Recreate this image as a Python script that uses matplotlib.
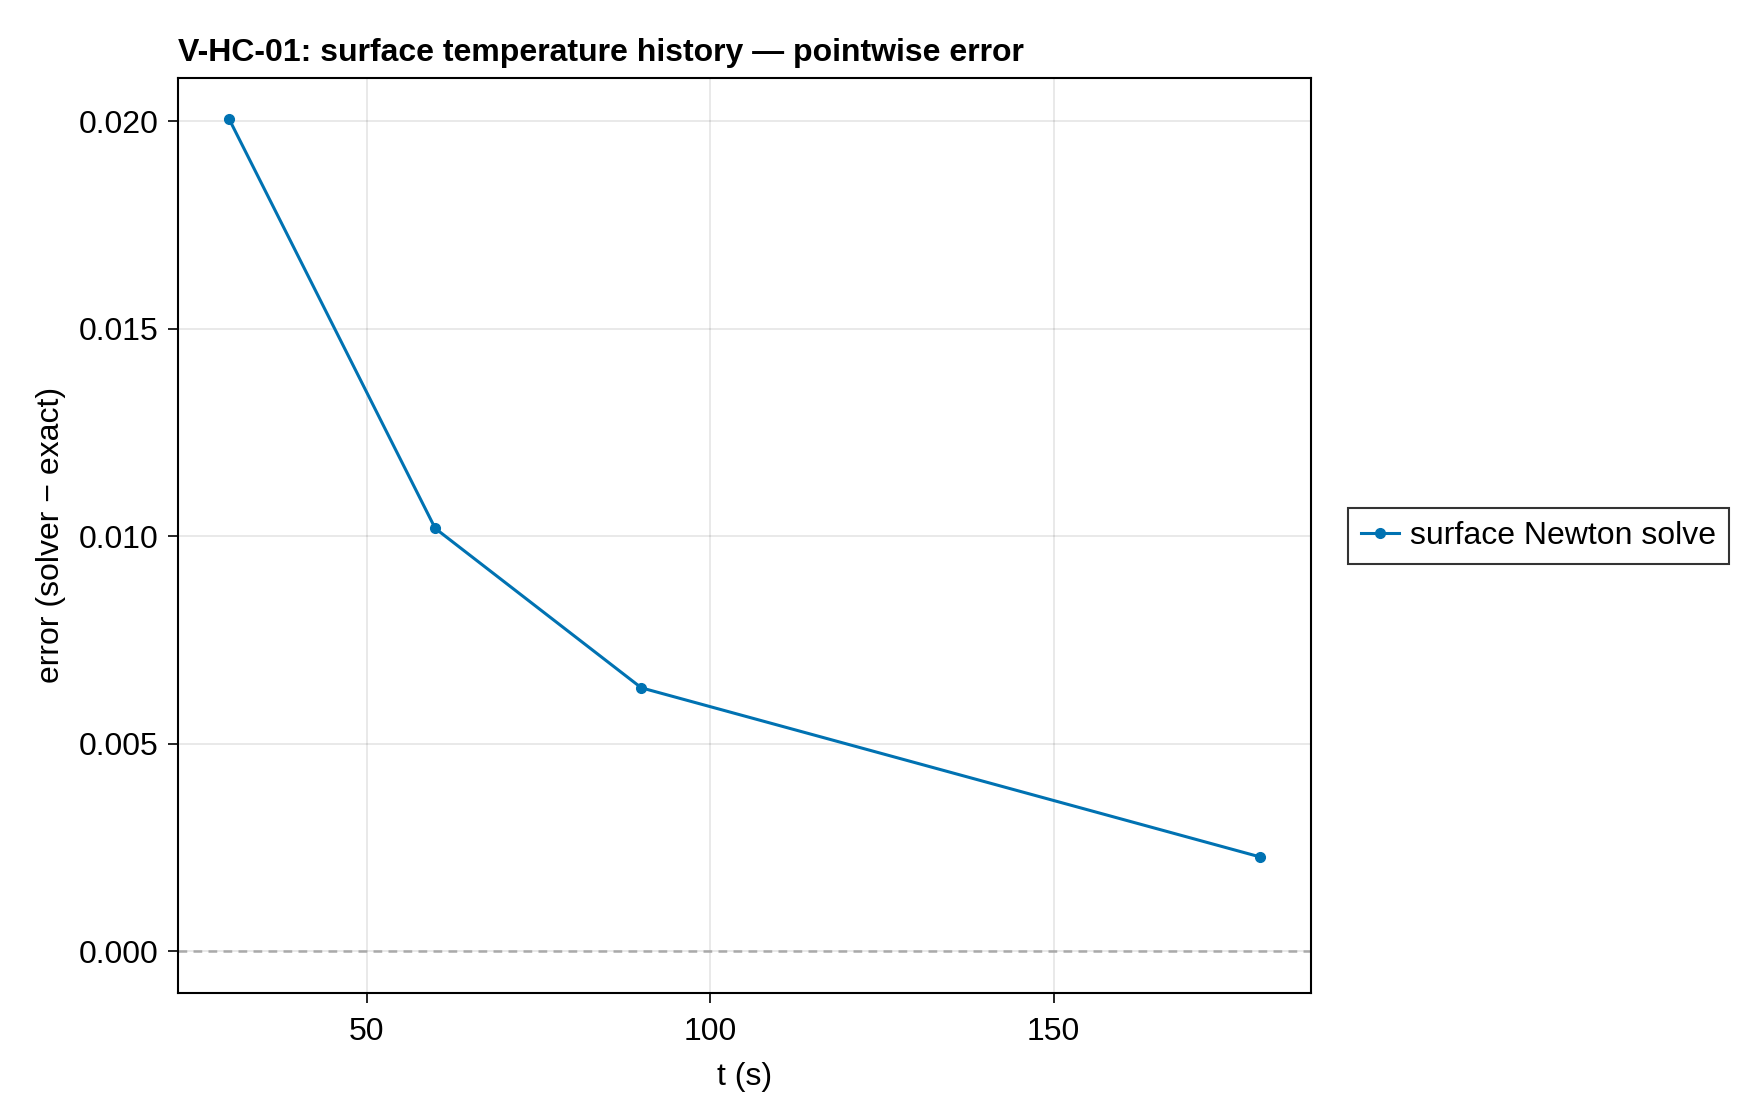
import numpy as np
import matplotlib

matplotlib.use("Agg")
import matplotlib.pyplot as plt

# surface temperature history: pointwise error at sample times
t_s = [30, 60, 90, 180]
error = [0.02005, 0.01019, 0.00635, 0.00228]
series_label = "surface Newton solve"

BLUE = "#0072B2"

plt.rcParams["font.family"] = ["Liberation Sans", "DejaVu Sans"]
plt.rcParams["font.size"] = 23

fig = plt.figure(figsize=(17.6, 11.2), dpi=100)
ax = fig.add_axes([0.1009, 0.1134, 0.6441, 0.8174])

ax.axhline(0.0, color="#aaaaaa", linestyle=(0, (3.5, 2.5)), linewidth=1.8, zorder=1)
ax.plot(t_s, error, color=BLUE, linewidth=2.2, marker="o", markersize=7,
        label=series_label, zorder=3)

ax.set_xlim(22.5, 187.5)
ax.set_ylim(-0.001, 0.02105)
ax.set_xticks([50, 100, 150])
ax.set_yticks([0.0, 0.005, 0.010, 0.015, 0.020])
ax.set_yticklabels(["0.000", "0.005", "0.010", "0.015", "0.020"])

ax.grid(True, color="black", alpha=0.1, linewidth=1.2)
ax.set_axisbelow(True)
for sp in ax.spines.values():
    sp.set_linewidth(1.5)
ax.tick_params(direction="out", length=7, width=1.2, pad=10, labelsize=23)
ax.tick_params(axis="y", pad=7)

ax.set_xlabel("t (s)", fontsize=23, labelpad=11)
ax.set_ylabel("error (solver − exact)", fontsize=23, labelpad=9)
ax.set_title("V-HC-01: surface temperature history — pointwise error",
             loc="left", fontsize=23, fontweight="bold", pad=12)

leg = fig.legend(loc="center left", bbox_to_anchor=(0.766, 0.5214),
                 bbox_transform=fig.transFigure, fontsize=23, frameon=True,
                 fancybox=False, edgecolor="black", handlelength=1.2,
                 borderpad=0.4, handletextpad=0.35, borderaxespad=0)
leg.get_frame().set_linewidth(1.5)

fig.savefig("out.png", dpi=100)
plt.close(fig)
